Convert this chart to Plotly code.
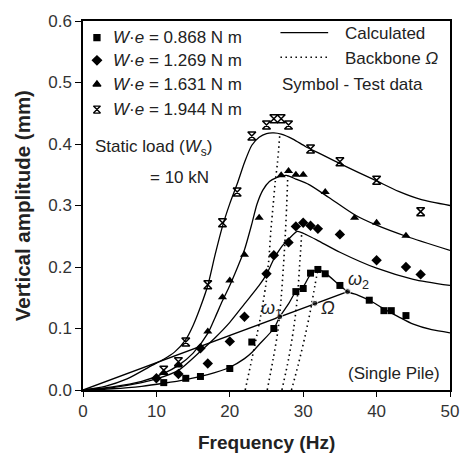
import plotly.graph_objects as go

FONT = "Liberation Sans, Arial, sans-serif"

# ---- Test data (frequency Hz, vertical amplitude mm) ----
sq_f = [11, 14, 16, 20, 23, 26, 29, 30, 31, 32, 33, 35, 39, 41, 42, 44]
sq_v = [0.012, 0.019, 0.022, 0.035, 0.078, 0.100, 0.160, 0.165, 0.190, 0.196, 0.189, 0.170, 0.146, 0.129, 0.129, 0.121]

di_f = [10, 13, 16, 17, 20, 22, 25, 26, 28, 29, 30, 31, 32, 35, 40, 44, 46]
di_v = [0.019, 0.026, 0.068, 0.043, 0.079, 0.119, 0.189, 0.219, 0.240, 0.266, 0.272, 0.267, 0.262, 0.253, 0.211, 0.200, 0.188]

tr_f = [11, 13, 17, 19, 20, 22, 24, 27, 28, 29, 30, 33, 37, 40, 44]
tr_v = [0.028, 0.040, 0.095, 0.151, 0.178, 0.220, 0.280, 0.349, 0.356, 0.350, 0.350, 0.322, 0.280, 0.272, 0.251]

st_f = [11, 13, 14, 17, 19, 21, 23, 25, 26, 27, 28, 31, 35, 40, 46]
st_v = [0.032, 0.046, 0.078, 0.171, 0.272, 0.322, 0.413, 0.431, 0.441, 0.441, 0.431, 0.392, 0.371, 0.341, 0.290]

# ---- Calculated curves ----
ca_f = [0, 4, 8, 11, 14, 17, 20, 22, 23, 24, 26, 26.8, 28, 29, 30, 31, 32, 33, 35, 36.05, 37.5, 39, 41, 43, 45, 47.5, 50]
ca_v = [0, 0.002, 0.006, 0.011, 0.017, 0.025, 0.037, 0.051, 0.061, 0.074, 0.100, 0.119, 0.140, 0.160, 0.168, 0.188, 0.196, 0.190, 0.170, 0.160, 0.154, 0.146, 0.132, 0.119, 0.107, 0.098, 0.093]

cb_f = [0, 4, 8, 10, 13, 16, 18, 20, 22, 24, 25, 26, 27, 28, 29.2, 30.5, 32, 35, 40, 45, 50]
cb_v = [0, 0.004, 0.012, 0.018, 0.032, 0.063, 0.085, 0.110, 0.140, 0.170, 0.188, 0.213, 0.232, 0.245, 0.258, 0.252, 0.243, 0.224, 0.198, 0.180, 0.170]

cc_f = [0, 4, 8, 11, 13, 15, 17, 18, 19, 20, 21, 22, 23, 23.7, 24.5, 25.4, 26.3, 27.7, 29, 30.8, 33.5, 37, 40, 44, 50]
cc_v = [0, 0.005, 0.014, 0.027, 0.040, 0.060, 0.092, 0.118, 0.145, 0.170, 0.198, 0.228, 0.270, 0.302, 0.325, 0.339, 0.345, 0.349, 0.343, 0.334, 0.313, 0.285, 0.268, 0.250, 0.227]

cd_f = [0, 3, 6, 9.4, 11, 12.5, 14, 15, 16, 17, 18, 19, 20, 21, 22, 23, 24, 25, 26, 27, 28.6, 30.3, 32, 35, 40, 43, 46, 50]
cd_v = [0, 0.006, 0.018, 0.040, 0.050, 0.062, 0.082, 0.105, 0.135, 0.170, 0.220, 0.266, 0.303, 0.335, 0.370, 0.398, 0.411, 0.417, 0.418, 0.416, 0.408, 0.396, 0.386, 0.368, 0.340, 0.323, 0.310, 0.300]

# ---- Backbone curves (dotted) ----
b1_f = [22.1, 23.0, 23.7, 24.2, 24.9, 25.3, 25.6, 25.9, 26.2, 26.5, 26.8]
b1_v = [0, 0.05, 0.09, 0.12, 0.17, 0.21, 0.26, 0.30, 0.34, 0.37, 0.414]
b2_f = [25.1, 25.9, 26.6, 27.0, 27.3, 27.55, 27.75, 27.9]
b2_v = [0, 0.05, 0.10, 0.15, 0.20, 0.25, 0.30, 0.349]
b3_f = [27.1, 28.0, 28.7, 29.2, 29.5, 29.8]
b3_v = [0, 0.05, 0.10, 0.15, 0.20, 0.255]
b4_f = [28.4, 29.3, 30.3, 31.0, 31.6, 32.0]
b4_v = [0, 0.04, 0.09, 0.13, 0.17, 0.196]

# ---- Omega line ----
om_f = [0, 26.8, 31.6, 36.05]
om_v = [0, 0.119, 0.141, 0.160]

# legend labels
leg_labels = ["<i>W</i>·<i>e</i> = 0.868 N m", "<i>W</i>·<i>e</i> = 1.269 N m",
              "<i>W</i>·<i>e</i> = 1.631 N m", "<i>W</i>·<i>e</i> = 1.944 N m"]
leg_y = [0.573, 0.536, 0.497, 0.456]
leg_sym = ["square", "diamond", "triangle-up", "hourglass-open"]
leg_size = [6, 7, 7, 7]

DOT = "1.5px,3.5px"

fig = go.Figure()

line_style = dict(color="black", width=1.3, shape="spline", smoothing=0.7)
for f, v in [(ca_f, ca_v), (cb_f, cb_v), (cc_f, cc_v), (cd_f, cd_v)]:
    fig.add_trace(go.Scatter(x=f, y=v, mode="lines", line=line_style, showlegend=False, hoverinfo="skip"))

for f, v in [(b1_f, b1_v), (b2_f, b2_v), (b3_f, b3_v), (b4_f, b4_v)]:
    fig.add_trace(go.Scatter(x=f, y=v, mode="lines",
                             line=dict(color="black", width=1.6, dash=DOT, shape="spline", smoothing=0.8),
                             showlegend=False, hoverinfo="skip"))

fig.add_trace(go.Scatter(x=om_f, y=om_v, mode="lines+markers",
                         line=dict(color="black", width=1.5),
                         marker=dict(size=[0, 6, 6, 6], color="black"),
                         showlegend=False, hoverinfo="skip"))

fig.add_trace(go.Scatter(x=sq_f, y=sq_v, mode="markers", marker=dict(symbol="square", size=7, color="black"), showlegend=False))
fig.add_trace(go.Scatter(x=di_f, y=di_v, mode="markers", marker=dict(symbol="diamond", size=8, color="black"), showlegend=False))
fig.add_trace(go.Scatter(x=tr_f, y=tr_v, mode="markers", marker=dict(symbol="triangle-up", size=8, color="black"), showlegend=False))
fig.add_trace(go.Scatter(x=st_f, y=st_v, mode="markers",
                         marker=dict(symbol="hourglass-open", size=8, color="black", line=dict(width=1.5, color="black")),
                         showlegend=False))

# legend symbols
for i in range(4):
    fig.add_trace(go.Scatter(x=[1.9], y=[leg_y[i]], mode="markers",
                             marker=dict(symbol=leg_sym[i], size=leg_size[i], color="black",
                                         line=dict(width=1.3, color="black")),
                             showlegend=False, hoverinfo="skip"))

annotations = []
for i in range(4):
    annotations.append(dict(x=3.8, y=leg_y[i], text=leg_labels[i], xanchor="left", yanchor="middle",
                            showarrow=False, font=dict(size=17, color="#222")))

annotations += [
    dict(x=35.4, y=0.579, text="Calculated", xanchor="left", yanchor="middle", showarrow=False, font=dict(size=17, color="#222")),
    dict(x=35.4, y=0.539, text="Backbone <i>Ω</i>", xanchor="left", yanchor="middle", showarrow=False, font=dict(size=17, color="#222")),
    dict(x=26.8, y=0.497, text="Symbol - Test data", xanchor="left", yanchor="middle", showarrow=False, font=dict(size=17, color="#222")),
    dict(x=1.3, y=0.393, text="Static load (<i>W</i><sub>s</sub>)", xanchor="left", yanchor="middle", showarrow=False, font=dict(size=17, color="#222")),
    dict(x=17.5, y=0.346, text="= 10 kN", xanchor="right", yanchor="middle", showarrow=False, font=dict(size=17, color="#222")),
    dict(x=48.9, y=0.027, text="(Single Pile)", xanchor="right", yanchor="middle", showarrow=False, font=dict(size=17, color="#222")),
    dict(x=25.7, y=0.131, text="<i>ω</i><sub>1</sub>", xanchor="center", yanchor="middle", showarrow=False, font=dict(size=18, color="#222")),
    dict(x=37.6, y=0.178, text="<i>ω</i><sub>2</sub>", xanchor="center", yanchor="middle", showarrow=False, font=dict(size=18, color="#222")),
    dict(x=33.4, y=0.133, text="<i>Ω</i>", xanchor="center", yanchor="middle", showarrow=False, font=dict(size=18, color="#222")),
    dict(x=0.5, y=-0.141, xref="paper", yref="paper", text="<b>Frequency (Hz)</b>", showarrow=False,
         xanchor="center", yanchor="middle", font=dict(size=19, color="#222")),
    dict(x=-0.164, y=0.5, xref="paper", yref="paper", text="<b>Vertical amplitude (mm)</b>", showarrow=False,
         textangle=-90, xanchor="center", yanchor="middle", font=dict(size=20.5, color="#222")),
]

shapes = [
    dict(type="line", xref="x", yref="y", x0=26.9, x1=33.4, y0=0.581, y1=0.581, line=dict(color="black", width=1.3)),
    dict(type="line", xref="x", yref="y", x0=26.9, x1=33.4, y0=0.541, y1=0.541, line=dict(color="black", width=1.6, dash=DOT)),
]

fig.update_layout(
    width=471, height=456,
    margin=dict(l=83, r=14, t=13, b=66),
    paper_bgcolor="white", plot_bgcolor="white",
    font=dict(family=FONT, size=17, color="#222"),
    annotations=annotations, shapes=shapes,
    showlegend=False,
)
fig.update_xaxes(range=[0, 50], tickvals=[0, 10, 20, 30, 40, 50], ticks="outside", ticklen=5,
                 tickwidth=1.3, tickcolor="black", showline=True, linecolor="black", linewidth=1.5,
                 mirror=True, showgrid=False, zeroline=False, tickfont=dict(size=17, color="#333"))
fig.update_yaxes(range=[0, 0.6], tickvals=[0, 0.1, 0.2, 0.3, 0.4, 0.5, 0.6], tickformat=".1f",
                 ticks="outside", ticklen=6, tickwidth=1.3, tickcolor="black", showline=True,
                 linecolor="black", linewidth=1.5, mirror=True, showgrid=False, zeroline=False,
                 tickfont=dict(size=17, color="#333"))

fig.write_html("out.html")
